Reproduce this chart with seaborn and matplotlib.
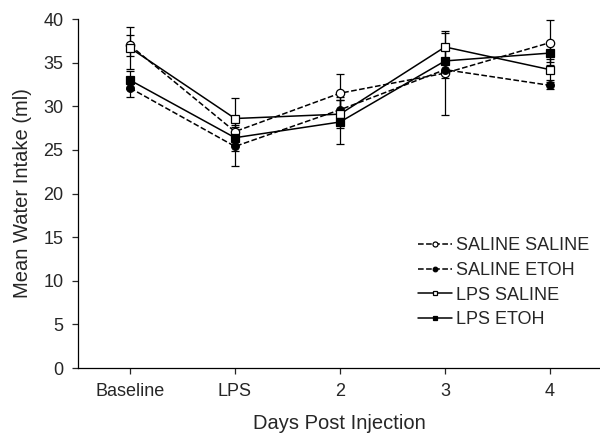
import matplotlib
matplotlib.use("Agg")
import matplotlib.pyplot as plt
import seaborn as sns
import pandas as pd
import numpy as np

days = ["Baseline", "LPS", "2", "3", "4"]
groups = ["SALINE SALINE", "SALINE ETOH", "LPS SALINE", "LPS ETOH"]
saline_saline = [37.0, 27.1, 31.5, 33.8, 37.3]
saline_saline_err = [1.2, 1.5, 2.2, 4.8, 2.6]
saline_etoh = [32.1, 25.4, 29.6, 34.2, 32.4]
saline_etoh_err = [1.0, 2.2, 1.5, 1.0, 0.4]
lps_saline = [36.7, 28.6, 29.1, 36.8, 34.2]
lps_saline_err = [2.4, 2.3, 1.6, 1.6, 1.2]
lps_etoh = [33.0, 26.4, 28.2, 35.2, 36.1]
lps_etoh_err = [1.0, 1.5, 2.5, 1.2, 1.0]

values = [saline_saline, saline_etoh, lps_saline, lps_etoh]
errors = [saline_saline_err, saline_etoh_err, lps_saline_err, lps_etoh_err]

rows = []
for g, v, e in zip(groups, values, errors):
    for i, d in enumerate(days):
        rows.append({"group": g, "x": i, "day": d, "y": v[i], "err": e[i]})
df = pd.DataFrame(rows)

sns.set_style("ticks")
plt.rcParams["font.family"] = ["Liberation Sans", "DejaVu Sans"]

fig = plt.figure(figsize=(6, 4.33), dpi=100)
ax = fig.add_axes([0.13, 0.15, 0.87, 0.806])

styles = {
    "SALINE SALINE": dict(ls="--", marker="o", mfc="white", ms=6),
    "SALINE ETOH": dict(ls="--", marker="o", mfc="black", ms=5.5),
    "LPS SALINE": dict(ls="-", marker="s", mfc="white", ms=6),
    "LPS ETOH": dict(ls="-", marker="s", mfc="black", ms=5.5),
}

for g in groups:
    sub = df[df.group == g]
    st = styles[g]
    ax.errorbar(sub.x, sub.y, yerr=sub.err, fmt="none", ecolor="black",
                elinewidth=0.9, capsize=3, capthick=0.9, zorder=2)
    sns.lineplot(data=sub, x="x", y="y", ax=ax, color="black",
                 linestyle=st["ls"], linewidth=1.1, marker=st["marker"],
                 markersize=st["ms"], markerfacecolor=st["mfc"],
                 markeredgecolor="black", markeredgewidth=0.9,
                 label=g, zorder=3)

ax.set_xlim(-0.495, 4.476)
ax.set_ylim(0, 40)
ax.set_yticks(range(0, 41, 5))
ax.set_xticks(range(len(days)))
ax.set_xticklabels(days)
ax.tick_params(axis="both", labelsize=13, length=4.5, width=0.9,
               direction="out", pad=6)
ax.set_xlabel("Days Post Injection", fontsize=14.5, labelpad=10)
ax.set_ylabel("Mean Water Intake (ml)", fontsize=14.5, labelpad=8)
for s in ["top", "right"]:
    ax.spines[s].set_visible(False)
for s in ["left", "bottom"]:
    ax.spines[s].set_linewidth(0.9)
    ax.spines[s].set_color("black")

leg = ax.legend(loc="lower right", bbox_to_anchor=(1.0, 0.083), frameon=False,
                fontsize=13, handlelength=1.9, handletextpad=0.2,
                labelspacing=0.42, markerscale=0.6, borderaxespad=0.2)

fig.savefig("out.png", dpi=100)
